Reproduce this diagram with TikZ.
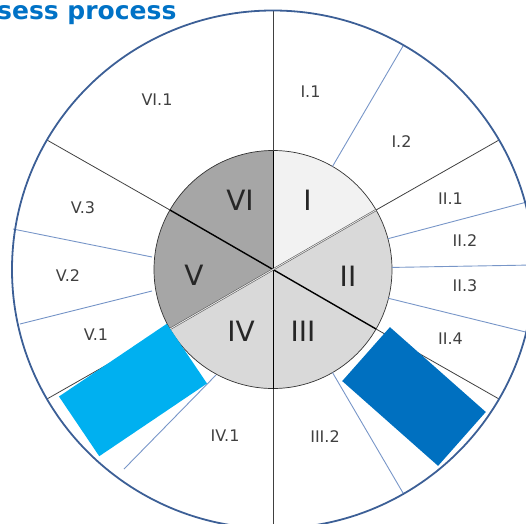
\documentclass[tikz,border=0pt]{standalone}
\usepackage{fontspec}
\setmainfont{DejaVu Sans}
\definecolor{ringblue}{HTML}{3C5F96}
\definecolor{lineblue}{HTML}{7896C8}
\definecolor{paleg}{HTML}{F2F2F2}
\definecolor{midg}{HTML}{D9D9D9}
\definecolor{darkg}{HTML}{A6A6A6}
\definecolor{skyblock}{HTML}{00B0F0}
\definecolor{seablock}{HTML}{0070C0}
\definecolor{titleblue}{HTML}{0072C6}

\begin{document}
\begin{tikzpicture}[x=1pt,y=1pt,
	bluesep/.style={lineblue,line width=0.9pt},
	blacksep/.style={black!75,line width=0.8pt},
	inlabel/.style={font=\fontsize{28}{30}\selectfont,text=black!85},
	outlabel/.style={font=\fontsize{16}{18}\selectfont,text=black!75},
	block/.style={minimum width=130pt,minimum height=72pt,inner sep=0pt,draw=none}]
	\useasboundingbox (-273,-253.5) rectangle (253,269.5);
	\clip (-273,-253.5) rectangle (253,269.5);
	\fill[paleg] (0,0) -- (30:119) arc (30:90:119) -- cycle;
	\fill[midg] (0,0) -- (-90:119) arc (-90:30:119) -- cycle;
	\fill[midg] (0,0) -- (210:119) arc (210:270:119) -- cycle;
	\fill[darkg] (0,0) -- (90:119) arc (90:210:119) -- cycle;
	\draw[black!80,line width=0.7pt] (0,0) circle (119);
	\draw[black,line width=0.8pt] (90:119) -- (270:119);
	\draw[black,line width=1.4pt] (150:119) -- (-30:119);
	\draw[black!70,line width=0.5pt,double=white!80!gray,double distance=0.9pt] (30:119) -- (210:119);
	\foreach \a in {60,15,1,-14,-60}
		\draw[bluesep] (\a:119) -- (\a:261 and 259);
	\draw[bluesep] (-57,-105.5) -- (-149,-199.5);
	\draw[bluesep] (-121,-21.5) -- (-253,-54.5);
	\draw[bluesep] (-121,12.5) -- (-260,40.5);
	\foreach \a in {90,30,-30,-90,210,150}
		\draw[blacksep] (\a:119) -- (\a:261 and 259);
	\draw[ringblue,line width=1.8pt] (0,0) ellipse [x radius=261,y radius=259];
	\node[block,fill=skyblock,rotate=34] (skyrect) at (-140,-120.5) {};
	\node[block,fill=seablock,minimum width=128pt,rotate=-41.5] (searect) at (141,-127) {};
	\node[inlabel] (secI) at (34.5,69) {I};
	\node[inlabel] (secII) at (75,-6.5) {II};
	\node[inlabel] (secIII) at (30,-61.5) {III};
	\node[inlabel] (secIV) at (-32,-61.5) {IV};
	\node[inlabel] (secV) at (-79,-5.5) {V};
	\node[inlabel] (secVI) at (-33,69) {VI};
	\node[outlabel] (subVIa) at (-116,169.5) {VI.1};
	\node[outlabel] (subIa) at (37.5,178) {I.1};
	\node[outlabel] (subIb) at (128.5,128) {I.2};
	\node[outlabel] (subIIa) at (177.5,70.5) {II.1};
	\node[outlabel] (subIIb) at (192,28.5) {II.2};
	\node[outlabel] (subIIc) at (192,-16.5) {II.3};
	\node[outlabel] (subIId) at (177.5,-69.5) {II.4};
	\node[outlabel] (subIIIb) at (52,-167.5) {III.2};
	\node[outlabel] (subIVa) at (-48,-166.5) {IV.1};
	\node[outlabel] (subVa) at (-177,-65.5) {V.1};
	\node[outlabel] (subVb) at (-205,-6.5) {V.2};
	\node[outlabel] (subVc) at (-190,62) {V.3};
	\node[anchor=base west,inner sep=0pt,font=\bfseries\fontsize{25}{28}\selectfont,text=titleblue] (title) at (-276,250.5) {sess process};
\end{tikzpicture}
\end{document}
